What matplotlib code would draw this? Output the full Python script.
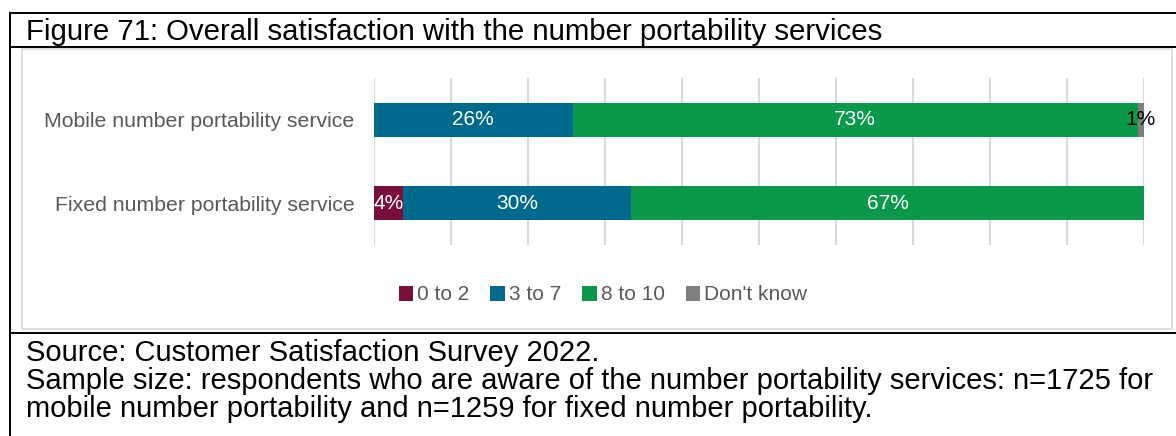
import matplotlib.pyplot as plt
from matplotlib.lines import Line2D
from matplotlib.patches import Rectangle

plt.rcParams['font.family'] = ['Liberation Sans', 'DejaVu Sans']

# data
services = ['Mobile number portability service', 'Fixed number portability service']
categories = ['0 to 2', '3 to 7', '8 to 10', "Don't know"]
values = {
    '0 to 2': [0.0, 3.8],
    '3 to 7': [25.8, 29.6],
    '8 to 10': [73.4, 66.6],
    "Don't know": [0.8, 0.0],
}
labels = {
    '0 to 2': ['', '4%'],
    '3 to 7': ['26%', '30%'],
    '8 to 10': ['73%', '67%'],
    "Don't know": ['1%', ''],
}
colors = ['#7A0E3A', '#006A8E', '#0A994A', '#7F7F7F']
label_colors = ['white', 'white', 'white', 'black']

W, H = 1176, 436
fig = plt.figure(figsize=(W / 100, H / 100), dpi=100)


def fx(px):
    return px / W


def fy(py):
    return 1 - py / H


# frame lines (table look)
black = dict(color='black', lw=1.4, transform=fig.transFigure)
fig.add_artist(Line2D([fx(10), 1], [fy(13), fy(13)], **black))
fig.add_artist(Line2D([fx(10), 1], [fy(47), fy(47)], **black))
fig.add_artist(Line2D([fx(10), 1], [fy(333), fy(333)], **black))
fig.add_artist(Line2D([fx(10), fx(10)], [fy(13), 0], **black))
fig.add_artist(Rectangle((fx(22), fy(329)), fx(1172) - fx(22), fy(49) - fy(329),
                         transform=fig.transFigure, fill=False,
                         edgecolor='#D9D9D9', lw=1.2))

fig.text(fx(26), fy(39.5), 'Figure 71: Overall satisfaction with the number portability services',
         fontsize=21.2, va='baseline', ha='left')
fig.text(fx(26), fy(361), 'Source: Customer Satisfaction Survey 2022.',
         fontsize=21, va='baseline', ha='left')
fig.text(fx(26), fy(389), 'Sample size: respondents who are aware of the number portability services: n=1725 for',
         fontsize=21, va='baseline', ha='left')
fig.text(fx(26), fy(417), 'mobile number portability and n=1259 for fixed number portability.',
         fontsize=21, va='baseline', ha='left')

ax = fig.add_axes([fx(374), fy(245), fx(1144) - fx(374), fy(78) - fy(245)])
y = [0, 1]
left = [0.0, 0.0]
for i, cat in enumerate(categories):
    vals = values[cat]
    ax.barh(y, vals, left=left, height=0.41, color=colors[i], label=cat, zorder=2)
    for j in range(len(y)):
        if labels[cat][j]:
            ax.text(left[j] + vals[j] / 2, y[j], labels[cat][j], ha='center', va='center',
                    color=label_colors[i], fontsize=15)
    left = [l + v for l, v in zip(left, vals)]

ax.set_xlim(0, 100)
ax.set_ylim(1.5, -0.5)
ax.set_xticks(range(0, 101, 10))
ax.tick_params(axis='x', length=0, labelbottom=False)
ax.tick_params(axis='y', length=0, labelsize=15.3, labelcolor='#595959', pad=14)
ax.set_yticks(y)
ax.set_yticklabels(services)
ax.grid(axis='x', color='#D9D9D9', lw=1.5, zorder=0)
ax.set_axisbelow(True)
for s in ax.spines.values():
    s.set_visible(False)

fig.legend(loc='center', bbox_to_anchor=(fx(603), fy(295)), ncol=4, frameon=False,
           handlelength=0.7, handleheight=0.7, handletextpad=0.2, columnspacing=1.0,
           fontsize=15, labelcolor='#595959')

fig.savefig('out.png', dpi=100)
